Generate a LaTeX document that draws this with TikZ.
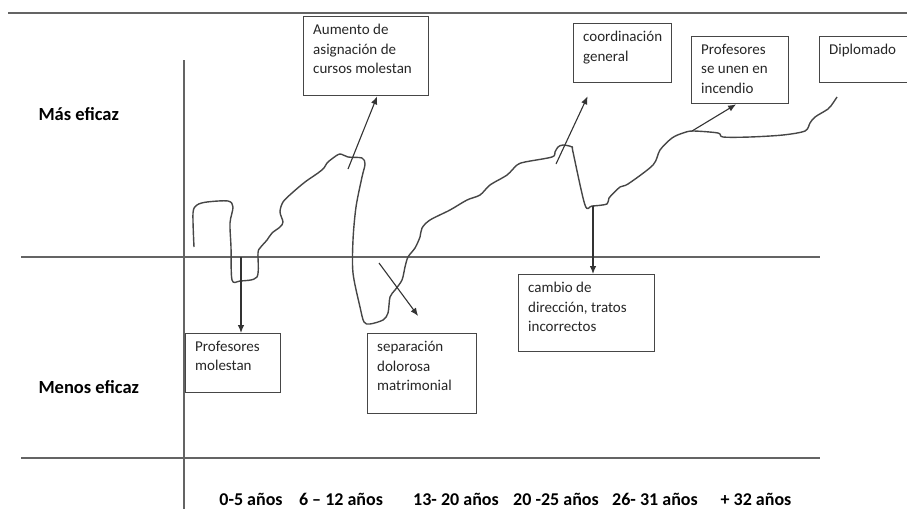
\documentclass[tikz,border=0pt]{standalone}
\usepackage{fontspec}
\setmainfont{Carlito}
\usepackage{tikz}
\usetikzlibrary{arrows.meta,positioning,calc}
\definecolor{inkgray}{RGB}{70,70,70}
\definecolor{axisgray}{RGB}{100,100,100}
\tikzset{
  notebox/.style={draw=inkgray,line width=1.3pt,anchor=north west,inner sep=0pt},
  notetext/.style={
    anchor=north west,align=left,inner xsep=10pt,inner ysep=8pt,
    font=\fontsize{15}{19.5}\selectfont,text=black!85
  },
  sidelabel/.style={anchor=base west,font=\fontsize{18.5}{22}\selectfont\bfseries},
  yearlabel/.style={anchor=base,inner sep=0pt,font=\fontsize{18}{22}\selectfont\bfseries},
  gridline/.style={draw=axisgray,line width=1.6pt},
  lifeline/.style={draw=inkgray,line width=1.4pt,smooth,tension=0.5,line join=round},
  notearrow/.style={-{Latex[length=8pt,width=6.5pt]},draw=black!80,line width=1.1pt}
}

\begin{document}
\begin{tikzpicture}[x=1pt,y=-1pt]
  \useasboundingbox (0,0) rectangle (907,509);
  \clip (0,0) rectangle (907,509);
  % frame lines
  \draw[gridline] (8,13) -- (907,13);
  \draw[gridline] (184,60) -- (184,509);
  \draw[gridline] (21,257) -- (820,257);
  \draw[gridline] (21,458) -- (820,458);
  \node[sidelabel] (mas) at (35,120) {Más eficaz};
  \node[sidelabel] (menos) at (35,393) {Menos eficaz};
  \foreach \xpos/\yr in {251/0-5 años, 341/6 – 12 años, 456/13- 20 años,
      556/20 -25 años, 655/26- 31 años, 756/+ 32 años}
    \node[yearlabel] (yr\xpos) at (\xpos,505) {\yr};
  % boxes
  \node[notebox,minimum width=125pt,minimum height=79pt] (aumento) at (303,16) {};
  \node[notetext] (aumento-t) at (aumento.north west) {Aumento de\\asignación de\\cursos molestan};
  \node[notebox,minimum width=95pt,minimum height=59pt] (molestan) at (185,333) {};
  \node[notetext] (molestan-t) at (molestan.north west) {Profesores\\molestan};
  \node[notebox,minimum width=109pt,minimum height=80pt] (separa) at (367,333) {};
  \node[notetext] (separa-t) at (separa.north west) {separación\\dolorosa\\matrimonial};
  \node[notebox,minimum width=136pt,minimum height=77pt] (cambio) at (518,274) {};
  \node[notetext] (cambio-t) at (cambio.north west) {cambio de\\dirección, tratos\\incorrectos};
  \node[notebox,minimum width=98pt,minimum height=59pt] (coord) at (573,23) {};
  \node[notetext] (coord-t) at (coord.north west) {coordinación\\general};
  \node[notebox,minimum width=97pt,minimum height=67pt] (incendio) at (691,36) {};
  \node[notetext] (incendio-t) at (incendio.north west) {Profesores\\se unen en\\incendio};
  \node[notebox,minimum width=95pt,minimum height=46pt] (diplomado) at (819,36) {};
  \node[notetext] (diplomado-t) at (diplomado.north west) {Diplomado};
  % the hand drawn career line
  \draw[lifeline] plot coordinates {
    (194,247) (193,213) (197,205) (207,202) (228,201) (233,207) (230,223)
    (231,247) (232,280) (240,281) (257,277) (258,253) (260,248) (267,240)
    (272,233) (280,227) (283,222) (280,212) (283,202) (292,193) (305,182)
    (318,173) (324,168) (327,163) (333,158) (340,154) (348,157) (362,158)
    (365,164) (362,177) (356,207) (353,240) (353,273) (360,307) (364,322)
    (370,324) (383,320) (388,313) (390,297) (395,290) (402,280) (405,267)
    (408,257) (415,248) (420,237) (422,228) (430,220) (450,210) (467,200)
    (480,195) (490,185) (507,175) (517,165) (525,162) (552,157) (555,152)
    (558,147) (563,145) (572,147) (573,152) (585,205) (592,206) (607,204)
    (609,198) (620,187) (628,184) (653,165) (660,150) (672,138) (683,133)
    (693,131) (718,133) (723,137) (750,137) (783,135) (805,131) (810,123)
    (815,117) (828,109) (833,103) (837,97)};
  \coordinate (peak1) at (348,169);
  \coordinate (dip1) at (241,257);
  \coordinate (fall1) at (379,263);
  \coordinate (peak2) at (556,164);
  \coordinate (dip2) at (593,206);
  \coordinate (rise1) at (692,131);
  \draw[notearrow] (peak1) -- ([xshift=11pt]aumento.south);
  \draw[notearrow] (dip1) -- (dip1 |- molestan.north);
  \draw[notearrow] (fall1) -- ([xshift=-4pt,yshift=17pt]separa.north);
  \draw[notearrow] (peak2) -- ([xshift=-35pt,yshift=-13pt]coord.south);
  \draw[notearrow] (dip2) -- (dip2 |- cambio.north);
  \draw[notearrow] (rise1) -- ([xshift=-4pt]incendio.south);
\end{tikzpicture}
\end{document}
